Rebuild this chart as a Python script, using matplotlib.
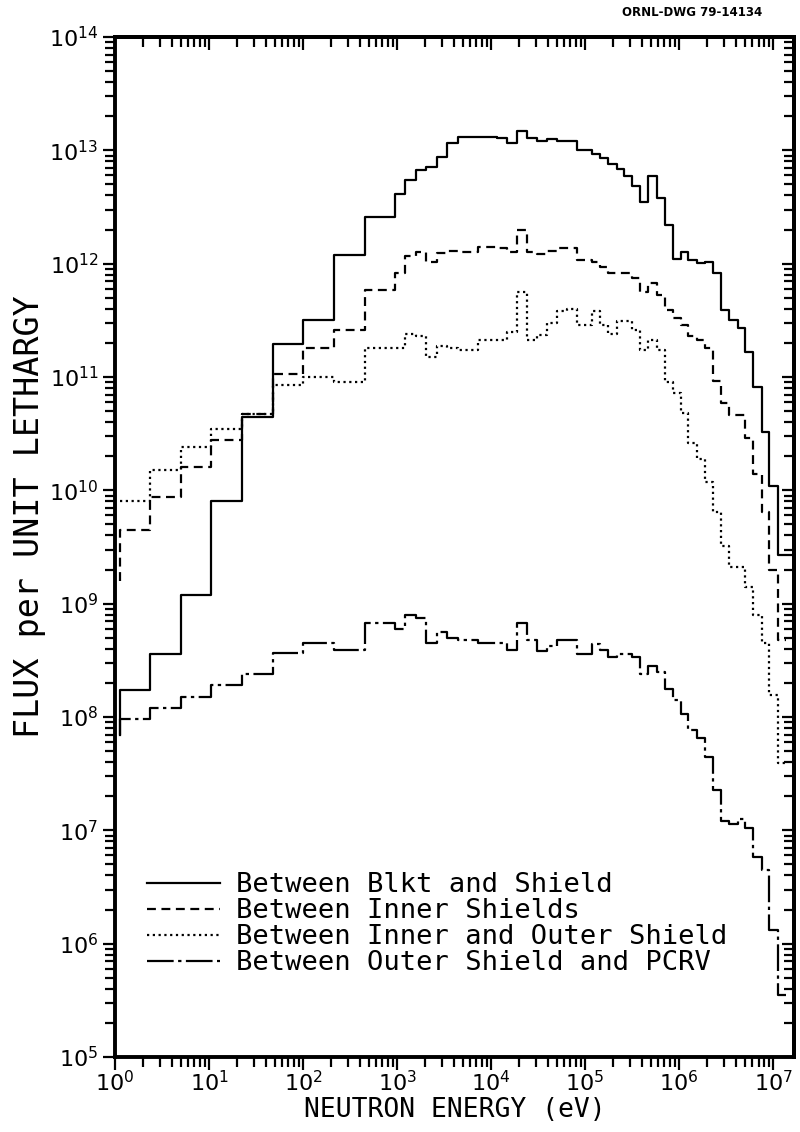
# Neutron flux spectra at four positions in the shield
import numpy as np
import matplotlib.pyplot as plt
from matplotlib.ticker import LogLocator, NullFormatter

# Group boundaries (eV), shared by all four spectra
edges = [1.14, 2.38, 5.04, 10.6, 22.4, 47.6, 101, 214, 452, 957,
         1230, 1585, 2046, 2630, 3378, 4490, 5690, 7270, 9290, 11580,
         14690, 18680, 23980, 30850, 39430, 50000, 63550, 81620, 97600, 117800,
         144400, 177000, 217400, 259900, 314000, 384800, 471800, 579500, 709700, 869200,
         1.05e6, 1.256e6, 1.542e6, 1.89e6, 2.30e6, 2.81e6, 3.44e6, 4.19e6, 5.09e6, 6.17e6,
         7.59e6, 9.12e6, 1.117e7, 1.375e7, 1.7e7]

# Flux per unit lethargy in each group (None = not plotted)
blkt_shield = [1.73e8, 3.6e8, 1.2e9, 8e9, 4.4e10, 1.95e11, 3.2e11, 1.2e12, 2.6e12, 4.1e12,
               5.5e12, 6.7e12, 7.2e12, 8.7e12, 1.15e13, 1.3e13, 1.3e13, 1.31e13, 1.3e13, 1.29e13,
               1.17e13, 1.48e13, 1.29e13, 1.22e13, 1.25e13, 1.22e13, 1.22e13, 1.0e13, 1.0e13, 9.3e12,
               8.5e12, 7.5e12, 6.9e12, 5.9e12, 4.8e12, 3.5e12, 5.9e12, 3.8e12, 2.2e12, 1.1e12,
               1.26e12, 1.07e12, 1.02e12, 1.03e12, 8.3e11, 3.9e11, 3.2e11, 2.7e11, 1.66e11, 8.1e10,
               3.3e10, 1.1e10, 2.7e9, 2.7e9]
inner_shields = [4.5e9, 8.7e9, 1.6e10, 2.8e10, 4.7e10, 1.07e11, 1.8e11, 2.6e11, 5.8e11, 8.2e11,
                 1.17e12, 1.27e12, 1.03e12, 1.25e12, 1.3e12, 1.26e12, 1.26e12, 1.41e12, 1.41e12, 1.38e12,
                 1.27e12, 1.98e12, 1.27e12, 1.22e12, 1.3e12, 1.38e12, 1.38e12, 1.07e12, 1.07e12, 1.04e12,
                 9.3e11, 8.2e11, 8.2e11, 8.2e11, 7.4e11, 5.6e11, 6.7e11, 5.3e11, 3.9e11, 3.3e11,
                 2.9e11, 2.3e11, 2.1e11, 1.8e11, 9.3e10, 5.9e10, 4.6e10, 4.6e10, 2.9e10, 1.4e10,
                 6.5e9, 2.0e9, 4.8e8, None]
inner_outer = [8e9, 1.5e10, 2.4e10, 3.5e10, 4.7e10, 8.5e10, 1.0e11, 9.1e10, 1.8e11, 1.8e11,
               2.4e11, 2.3e11, 1.5e11, 1.87e11, 1.8e11, 1.73e11, 1.73e11, 2.1e11, 2.1e11, 2.1e11,
               2.5e11, 5.6e11, 2.1e11, 2.35e11, 3.0e11, 3.85e11, 3.95e11, 2.9e11, 2.9e11, 3.85e11,
               2.9e11, 2.4e11, 3.1e11, 3.1e11, 2.6e11, 1.73e11, 2.1e11, 1.73e11, 9.0e10, 7.2e10,
               4.8e10, 2.6e10, 1.9e10, 1.19e10, 6.5e9, 3.2e9, 2.1e9, 2.1e9, 1.4e9, 8e8,
               4.5e8, 1.55e8, 3.9e7, None]
outer_pcrv = [9.6e7, 1.19e8, 1.5e8, 1.9e8, 2.4e8, 3.7e8, 4.5e8, 3.9e8, 6.8e8, 6.0e8,
              8.0e8, 7.4e8, 4.5e8, 5.6e8, 5.0e8, 4.8e8, 4.8e8, 4.5e8, 4.5e8, 4.5e8,
              3.9e8, 6.7e8, 4.8e8, 3.8e8, 4.2e8, 4.8e8, 4.8e8, 3.6e8, 3.6e8, 4.4e8,
              3.9e8, 3.35e8, 3.6e8, 3.6e8, 3.4e8, 2.4e8, 2.8e8, 2.5e8, 1.78e8, 1.4e8,
              1.06e8, 7.7e7, 6.5e7, 4.4e7, 2.25e7, 1.2e7, 1.13e7, 1.26e7, 1.04e7, 5.8e6,
              4.45e6, 1.32e6, 3.5e5, None]

# value at the lower boundary before the first group
start_vals = [7e7, 1.6e9, 8e9, 7e7]

labels = ['Between Blkt and Shield', 'Between Inner Shields',
          'Between Inner and Outer Shield', 'Between Outer Shield and PCRV']
styles = ['-', (0, (4, 2.5)), (0, (1, 1.6)), (0, (12, 2, 1.5, 2))]

mono = 'DejaVu Sans Mono'

fig = plt.figure(figsize=(8, 11.32), dpi=100)
ax = fig.add_axes([115/800, 1 - 1057/1132, 679/800, 1020/1132])

series = [blkt_shield, inner_shields, inner_outer, outer_pcrv]
for vals, s0, lab, ls in zip(series, start_vals, labels, styles):
    y = np.array([s0] + [np.nan if v is None else v for v in vals] + [np.nan], dtype=float)
    x = np.array([edges[0]] + edges, dtype=float)
    ax.plot(x, y, drawstyle='steps-post', color='black', lw=1.6, ls=ls, label=lab)

ax.set_xscale('log')
ax.set_yscale('log')
ax.set_xlim(1, 1.67e7)
ax.set_ylim(1e5, 1e14)

ax.xaxis.set_major_locator(LogLocator(base=10, numticks=20))
ax.xaxis.set_minor_locator(LogLocator(base=10, subs=np.arange(2, 10), numticks=20))
ax.yaxis.set_major_locator(LogLocator(base=10, numticks=20))
ax.yaxis.set_minor_locator(LogLocator(base=10, subs=np.arange(2, 10), numticks=20))
ax.xaxis.set_minor_formatter(NullFormatter())
ax.yaxis.set_minor_formatter(NullFormatter())

# ticks all hang the same way: out on left/bottom, in on right/top
ax.tick_params(which='both', direction='out', top=False, right=False, width=1.6, labelsize=16)
ax.tick_params(which='major', length=9)
ax.tick_params(which='minor', length=7)
ax.tick_params(axis='x', which='major', pad=0)
ax.tick_params(axis='y', which='major', pad=3)
ax2 = ax.secondary_xaxis('top')
ax2.set_xscale('log')
ax2.xaxis.set_major_locator(LogLocator(base=10, numticks=20))
ax2.xaxis.set_minor_locator(LogLocator(base=10, subs=np.arange(2, 10), numticks=20))
ax2.xaxis.set_minor_formatter(NullFormatter())
ax2.tick_params(which='both', direction='in', width=1.6, labeltop=False)
ax2.tick_params(which='major', length=9)
ax2.tick_params(which='minor', length=7)
ax3 = ax.secondary_yaxis('right')
ax3.set_yscale('log')
ax3.yaxis.set_major_locator(LogLocator(base=10, numticks=20))
ax3.yaxis.set_minor_locator(LogLocator(base=10, subs=np.arange(2, 10), numticks=20))
ax3.yaxis.set_minor_formatter(NullFormatter())
ax3.tick_params(which='both', direction='in', width=1.6, labelright=False)
ax3.tick_params(which='major', length=9)
ax3.tick_params(which='minor', length=7)

for a in (ax, ax2, ax3):
    for sp in a.spines.values():
        sp.set_linewidth(2.8)

fig.text(0.5 * (115 + 794) / 800, 1 - 1110/1132, 'NEUTRON ENERGY (eV)',
         fontsize=19, family=mono, ha='center', va='center')
fig.text(30/800, 1 - 517/1132, 'FLUX per UNIT LETHARGY',
         fontsize=24, family=mono, rotation=90, ha='center', va='center')

ax.legend(loc='lower left', bbox_to_anchor=(0.047, 0.079), frameon=False,
          prop={'family': mono, 'size': 19.5},
          handlelength=2.7, handletextpad=0.6, labelspacing=0.0,
          borderaxespad=0, borderpad=0)

fig.text(762/800, 1 - 6/1132, 'ORNL-DWG 79-14134', fontsize=8.5, weight='bold',
         ha='right', va='top')

plt.savefig('out.png', dpi=100)
